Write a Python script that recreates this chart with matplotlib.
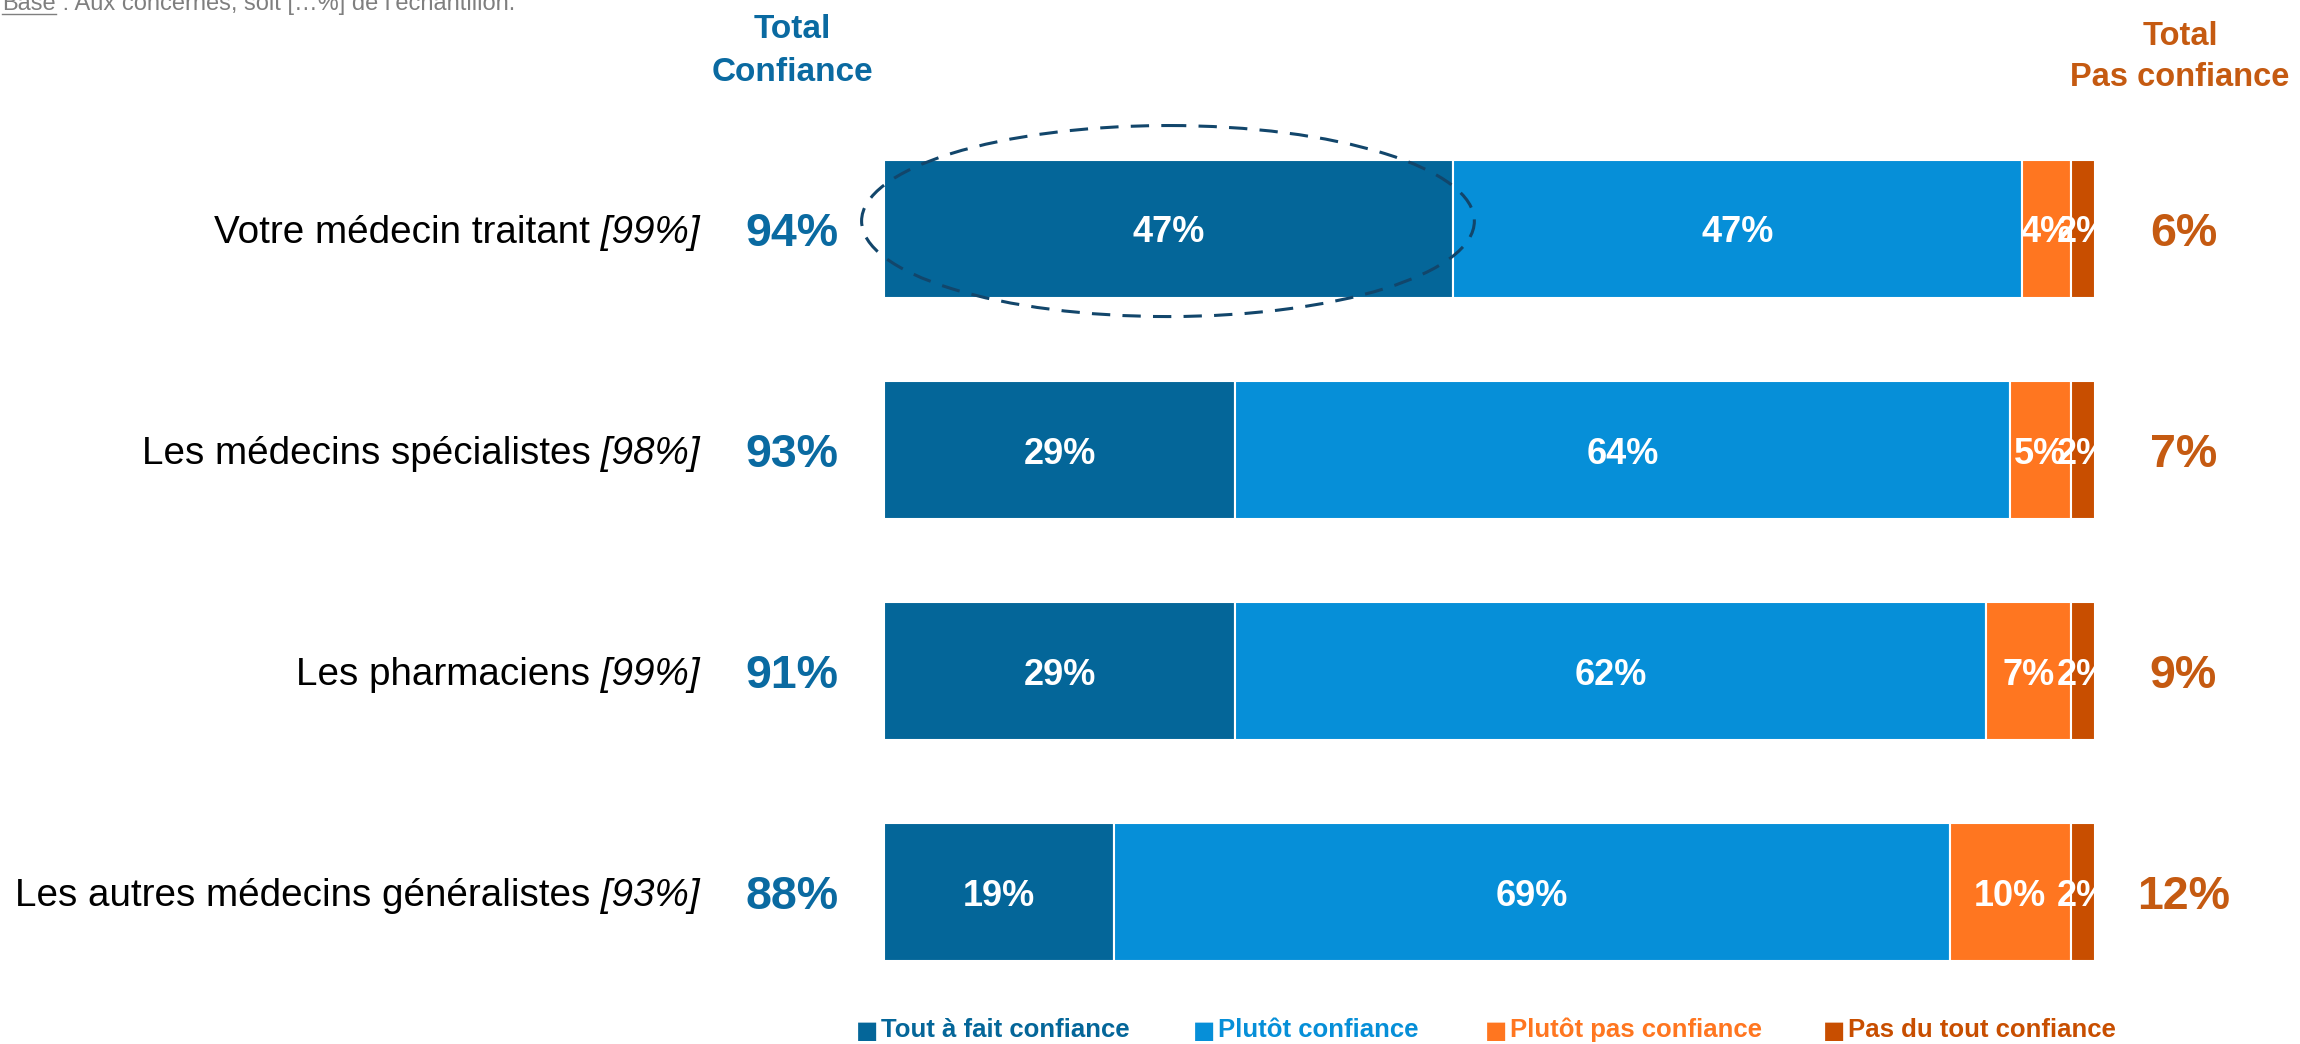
import matplotlib.pyplot as plt
from matplotlib.patches import Ellipse
import matplotlib.lines as mlines
import numpy as np

# ---- data ----
categories = ["Votre médecin traitant", "Les médecins spécialistes",
              "Les pharmaciens", "Les autres médecins généralistes"]
bases = ["[99%]", "[98%]", "[99%]", "[93%]"]
tout_a_fait = [47, 29, 29, 19]
plutot = [47, 64, 62, 69]
plutot_pas = [4, 5, 7, 10]
pas_du_tout = [2, 2, 2, 2]
total_confiance = [94, 93, 91, 88]
total_pas_confiance = [6, 7, 9, 12]
series_names = ["Tout à fait confiance", "Plutôt confiance",
                "Plutôt pas confiance", "Pas du tout confiance"]
colors = ["#046699", "#068FD8", "#FF7620", "#C84E00"]
col_total_conf = "#0A6AA1"
col_total_pas = "#C55A11"

plt.rcParams['font.family'] = ['Liberation Sans', 'DejaVu Sans']

W, H = 2300, 1044
fig = plt.figure(figsize=(W / 100, H / 100), dpi=100)

# axes placed so that x 0..100 spans the bar area
x0_px, x1_px = 884, 2095
ax = fig.add_axes([x0_px / W, 1 - 1025 / H, (x1_px - x0_px) / W, 995 / H])
ax.set_xlim(0, 100)
ax.set_ylim(3.6, -0.9)
ax.axis('off')

y = np.arange(len(categories))
series = [tout_a_fait, plutot, plutot_pas, pas_du_tout]
left = np.zeros(len(categories))
for vals, c in zip(series, colors):
    vals = np.array(vals)
    ax.barh(y, vals, left=left, height=0.625, color=c,
            edgecolor='white', linewidth=1.5)
    for yi, v, l in zip(y, vals, left):
        ax.text(l + v / 2, yi, f"{v}%", ha='center', va='center_baseline',
                color='white', fontsize=26, fontweight='bold')
    left += vals

# category labels with italic base
for yi, cat, b in zip(y, categories, bases):
    t = ax.text(-15.2, yi, " " + b, ha='right', va='center_baseline',
                fontsize=27.8, style='italic', clip_on=False)
    ax.annotate(cat, xy=(0, 0), xycoords=t, xytext=(0, 0),
                textcoords='offset points', ha='right', va='bottom',
                fontsize=27.8)

# totals
for yi, tc, tp in zip(y, total_confiance, total_pas_confiance):
    ax.text(-7.6, yi, f"{tc}%", ha='center', va='center_baseline',
            fontsize=33.5, fontweight='bold', color=col_total_conf,
            clip_on=False)
    ax.text(107.3, yi, f"{tp}%", ha='center', va='center_baseline',
            fontsize=33.5, fontweight='bold', color=col_total_pas,
            clip_on=False)

# headers
fig.text(792 / W, 1 - 51 / H, "Total\nConfiance", ha='center', va='center',
         fontsize=24, fontweight='bold', color=col_total_conf,
         linespacing=1.5)
fig.text(2180 / W, 1 - 57 / H, "Total\nPas confiance", ha='center',
         va='center', fontsize=23.5, fontweight='bold', color=col_total_pas,
         linespacing=1.45)

# highlight ellipse
ax.add_patch(Ellipse((23.45, -0.036), 50.6, 0.864, fill=False,
                     edgecolor='#12466B', linestyle=(0, (6, 4)),
                     linewidth=2.2, clip_on=False))

# legend
leg_x = [856, 1193, 1485, 1823]
for xp, name, c in zip(leg_x, series_names, colors):
    fig.text(xp / W, 1 - 1031 / H, "■", ha='left', va='center',
             fontsize=17, color=c, family='DejaVu Sans')
    fig.text((xp + 25) / W, 1 - 1030 / H, name, ha='left', va='center',
             fontsize=18.5, fontweight='bold', color=c)

# base note at top-left (partly cut off)
tb = fig.text(2 / W, 1 - 10 / H, "Base", ha='left', va='baseline',
              fontsize=17, color='#7F7F7F')
fig.canvas.draw()
bb = tb.get_window_extent()
fig.text(bb.x1 / W, 1 - 10 / H, " : Aux concernés, soit [\u2026%] de l\u2019échantillon.",
         ha='left', va='baseline', fontsize=17, color='#7F7F7F')
fig.add_artist(mlines.Line2D([bb.x0 / W, bb.x1 / W],
                             [1 - 14 / H, 1 - 14 / H], color='#7F7F7F',
                             linewidth=1))

fig.savefig("out.png", dpi=100)
